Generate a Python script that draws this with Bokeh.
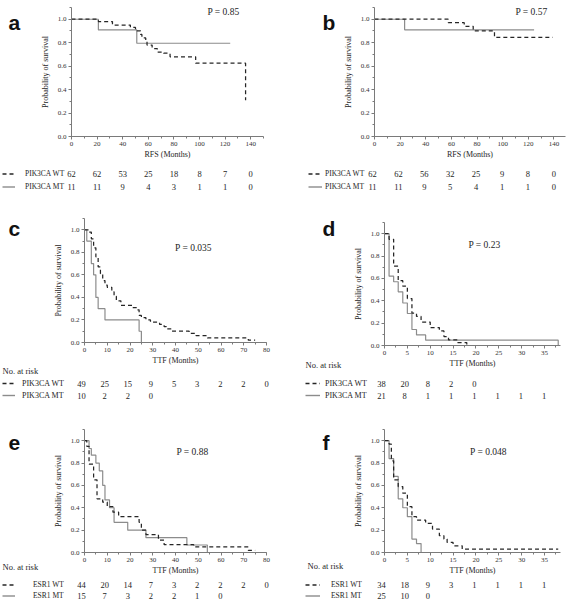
from bokeh.plotting import figure
from bokeh.layouts import column, row
from bokeh.models import (Range1d, SingleIntervalTicker, NumeralTickFormatter, Label,
                          LabelSet, ColumnDataSource, Legend, LegendItem)
from bokeh.embed import file_html
from bokeh.resources import INLINE

# ------------------------------------------------------------------ data
# Panel a: RFS by PIK3CA status
a_wt_time = [0, 21, 32, 46, 50, 54, 55, 58, 59, 63, 67, 72, 77, 97, 136]
a_wt_surv = [1.0, 0.98, 0.95, 0.93, 0.90, 0.87, 0.84, 0.82, 0.78, 0.75, 0.72, 0.71, 0.68, 0.625, 0.31]
a_mt_time = [0, 21, 51, 124]
a_mt_surv = [1.0, 0.909, 0.795, 0.795]
a_risk_time = [0, 20, 40, 60, 80, 100, 120, 140]
a_risk_wt = [62, 62, 53, 25, 18, 8, 7, 0]
a_risk_mt = [11, 11, 9, 4, 3, 1, 1, 0]

# Panel b: RFS by PIK3CA status
b_wt_time = [0, 57.5, 70, 77, 93.6, 139]
b_wt_surv = [1.0, 0.97, 0.94, 0.90, 0.845, 0.845]
b_mt_time = [0, 23.5, 124.5]
b_mt_surv = [1.0, 0.91, 0.91]
b_risk_time = [0, 20, 40, 60, 80, 100, 120, 140]
b_risk_wt = [62, 62, 56, 32, 25, 9, 8, 0]
b_risk_mt = [11, 11, 9, 5, 4, 1, 1, 0]

# Panel c: TTF by PIK3CA status
c_wt_time = [0, 2, 3, 4, 5, 6, 7, 8, 9, 10, 12, 13, 14, 16, 21, 23, 24, 25, 27, 29,
             33, 35, 36, 38, 46, 49, 54, 72, 75]
c_wt_surv = [1.0, 0.98, 0.92, 0.84, 0.76, 0.67, 0.61, 0.55, 0.51, 0.49, 0.45, 0.41, 0.37, 0.33,
             0.31, 0.29, 0.24, 0.22, 0.20, 0.18, 0.16, 0.14, 0.12, 0.10, 0.08, 0.06, 0.04, 0.02, 0.02]
c_mt_time = [0, 1, 3, 4, 5, 6, 9, 24, 25]
c_mt_surv = [1.0, 0.9, 0.7, 0.6, 0.4, 0.3, 0.2, 0.1, 0.0]
c_risk_time = [0, 10, 20, 30, 40, 50, 60, 70, 80]
c_risk_wt = [49, 25, 15, 9, 5, 3, 2, 2, 0]
c_risk_mt = [10, 2, 2, 0]

# Panel d: TTF by PIK3CA status
d_wt_time = [0, 1, 2, 3, 4, 5, 6, 7, 8, 10, 12, 13, 14, 16, 18]
d_wt_surv = [1.0, 0.95, 0.71, 0.58, 0.53, 0.42, 0.29, 0.26, 0.21, 0.16, 0.13, 0.08, 0.05, 0.026, 0.0]
d_mt_time = [0, 1, 2, 3, 4, 5, 6, 7, 9, 38]
d_mt_surv = [1.0, 0.62, 0.57, 0.48, 0.38, 0.286, 0.143, 0.095, 0.048, 0.0]
d_risk_time = [0, 5, 10, 15, 20, 25, 30, 35]
d_risk_wt = [38, 20, 8, 2, 0]
d_risk_mt = [21, 8, 1, 1, 1, 1, 1, 1]

# Panel e: TTF by ESR1 status
e_wt_time = [0, 1, 2, 4, 5.5, 8, 10, 12.5, 15, 24, 25, 27, 32.5, 35, 48, 72, 75]
e_wt_surv = [1.0, 0.95, 0.79, 0.65, 0.48, 0.45, 0.41, 0.36, 0.32, 0.27, 0.20, 0.16, 0.11, 0.07,
             0.05, 0.02, 0.02]
e_mt_time = [0, 2, 3, 5, 6.5, 8, 9, 11, 13, 19, 27, 45, 54]
e_mt_surv = [1.0, 0.93, 0.87, 0.80, 0.73, 0.60, 0.47, 0.40, 0.27, 0.20, 0.133, 0.067, 0.0]
e_risk_time = [0, 10, 20, 30, 40, 50, 60, 70, 80]
e_risk_wt = [44, 20, 14, 7, 3, 2, 2, 2, 0]
e_risk_mt = [15, 7, 3, 2, 2, 1, 0]

# Panel f: TTF by ESR1 status
f_wt_time = [0, 1, 1.5, 2, 3, 4, 5, 6, 7, 9, 10.5, 12, 13, 13.7, 15, 17, 38]
f_wt_surv = [1.0, 0.97, 0.82, 0.65, 0.59, 0.53, 0.41, 0.32, 0.29, 0.26, 0.21, 0.15, 0.12, 0.09,
             0.06, 0.03, 0.03]
f_mt_time = [0, 1, 2, 3, 4, 5, 6, 7, 8]
f_mt_surv = [1.0, 0.84, 0.68, 0.48, 0.40, 0.32, 0.12, 0.08, 0.0]
f_risk_time = [0, 5, 10, 15, 20, 25, 30, 35]
f_risk_wt = [34, 18, 9, 3, 1, 1, 1, 1]
f_risk_mt = [25, 10, 0]

letters = ["a", "b", "c", "d", "e", "f"]
p_values = ["P = 0.85", "P = 0.57", "P = 0.035", "P = 0.23", "P = 0.88", "P = 0.048"]
x_titles = ["RFS (Months)", "RFS (Months)", "TTF (Months)", "TTF (Months)", "TTF (Months)", "TTF (Months)"]
y_title = "Probability of survival"
wt_labels = ["PIK3CA WT", "PIK3CA WT", "PIK3CA WT", "PIK3CA WT", "ESR1 WT", "ESR1 WT"]
mt_labels = ["PIK3CA MT", "PIK3CA MT", "PIK3CA MT", "PIK3CA MT", "ESR1 MT", "ESR1 MT"]
risk_title = "No. at risk"
show_risk_title = [False, False, True, True, True, True]

# ------------------------------------------------------------------ styles
SERIF = "Liberation Serif"
DASH_COLOR = "#262626"
SOLID_COLOR = "#8c8c8c"
AXIS_COLOR = "#7a7a7a"
TEXT_COLOR = "#1e1e1e"
DASH = "4 3"

# geometry per panel (pixels): strip (letter column), plot figure, table figure
geo = [
    dict(sw=36, pw=247, ph=162, bl=35, br=20, bt=7, bb=26, th=33, xmax=150, xstep=20,
         letter=(8, 140), pv=(152, 124.5), rows=(22, 9), rh=13, leg_x=2, gw=13, stand=10,
         risk=None, lfs="7.5px"),
    dict(sw=57, pw=227, ph=162, bl=32, br=2, bt=7, bb=26, th=33, xmax=149, xstep=20,
         letter=(39, 140), pv=(157, 124.5), rows=(22, 9), rh=13, leg_x=25, gw=14, stand=3,
         risk=None, lfs="7.5px"),
    dict(sw=50, pw=233, ph=179, bl=31, br=17, bt=23, bb=32, th=31, xmax=80, xstep=10,
         letter=(8, 146), pv=(109, 95), rows=(22, 10), rh=12, leg_x=2, gw=13, stand=7,
         risk=(2, 4), lfs="8px"),
    dict(sw=67, pw=217, ph=179, bl=31, br=7, bt=27, bb=29, th=31, xmax=38.5, xstep=5,
         letter=(39, 146), pv=(100, 101), rows=(22, 10), rh=12, leg_x=22, gw=15, stand=5,
         risk=(22, 10), lfs="8px"),
    dict(sw=50, pw=233, ph=172, bl=31, br=17, bt=24, bb=23, th=23, xmax=80, xstep=10,
         letter=(8, 135), pv=(108, 101), rows=(16, 5), rh=11, leg_x=2, gw=13, stand=18,
         risk=(2, 11), lfs="7.5px"),
    dict(sw=67, pw=217, ph=172, bl=31, br=7, bt=24, bb=24, th=23, xmax=38.5, xstep=5,
         letter=(39, 135), pv=(104, 101), rows=(16, 5), rh=11, leg_x=22, gw=15, stand=11,
         risk=(24, 12), lfs="7.5px"),
]

series = [
    (a_wt_time, a_wt_surv, a_mt_time, a_mt_surv, a_risk_time, a_risk_wt, a_risk_mt),
    (b_wt_time, b_wt_surv, b_mt_time, b_mt_surv, b_risk_time, b_risk_wt, b_risk_mt),
    (c_wt_time, c_wt_surv, c_mt_time, c_mt_surv, c_risk_time, c_risk_wt, c_risk_mt),
    (d_wt_time, d_wt_surv, d_mt_time, d_mt_surv, d_risk_time, d_risk_wt, d_risk_mt),
    (e_wt_time, e_wt_surv, e_mt_time, e_mt_surv, e_risk_time, e_risk_wt, e_risk_mt),
    (f_wt_time, f_wt_surv, f_mt_time, f_mt_surv, f_risk_time, f_risk_wt, f_risk_mt),
]


def blank(width, height, x_range=None):
    f = figure(width=width, height=height, x_range=x_range or Range1d(0, 1), y_range=Range1d(0, 1),
               x_axis_type=None, y_axis_type=None, min_border=0, output_backend="svg",
               toolbar_location=None, tools="", frame_align=False)
    f.xgrid.visible = False
    f.ygrid.visible = False
    f.outline_line_color = None
    return f


def make_panel(i):
    g = geo[i]
    wt_t, wt_s, mt_t, mt_s, r_t, r_wt, r_mt = series[i]

    # ---- main Kaplan-Meier plot
    p = figure(width=g["pw"], height=g["ph"], min_border_left=g["bl"], min_border_right=g["br"],
               min_border_top=g["bt"], min_border_bottom=g["bb"],
               x_range=Range1d(0, g["xmax"]), y_range=Range1d(0, 1.1),
               output_backend="svg", toolbar_location=None, tools="", frame_align=False)
    p.xgrid.visible = False
    p.ygrid.visible = False
    p.outline_line_color = None
    for ax in (p.xaxis[0], p.yaxis[0]):
        ax.axis_line_color = AXIS_COLOR
        ax.major_tick_line_color = AXIS_COLOR
        ax.minor_tick_line_color = AXIS_COLOR
        ax.major_tick_in = 0
        ax.major_tick_out = 3
        ax.minor_tick_in = 0
        ax.minor_tick_out = 2
        ax.major_label_text_font = SERIF
        ax.major_label_text_font_size = "7px"
        ax.major_label_text_color = "#333333"
        ax.major_label_standoff = 2
        ax.axis_label_text_font = SERIF
        ax.axis_label_text_font_size = "8px"
        ax.axis_label_text_font_style = "normal"
        ax.axis_label_text_color = TEXT_COLOR
    p.xaxis.ticker = SingleIntervalTicker(interval=g["xstep"], num_minor_ticks=2)
    p.yaxis.ticker = SingleIntervalTicker(interval=0.2, num_minor_ticks=2)
    p.yaxis.formatter = NumeralTickFormatter(format="0.0")
    p.xaxis.axis_label = x_titles[i]
    p.yaxis.axis_label = y_title
    p.xaxis.axis_label_standoff = 1
    p.yaxis.axis_label_standoff = 5

    p.step(x=mt_t, y=mt_s, mode="after", line_color=SOLID_COLOR, line_width=1.2)
    p.step(x=wt_t, y=wt_s, mode="after", line_color=DASH_COLOR, line_width=1.25, line_dash=DASH)

    p.add_layout(Label(x=g["pv"][0], y=g["pv"][1], x_units="screen", y_units="screen",
                       text=p_values[i], text_font=SERIF, text_font_size="9.5px",
                       text_color=TEXT_COLOR, text_align="center", text_baseline="middle"))

    # ---- left strip with panel letter (and "No. at risk")
    s = blank(g["sw"], g["ph"])
    s.add_layout(Label(x=g["letter"][0], y=g["letter"][1], x_units="screen", y_units="screen",
                       text=letters[i], text_font="Liberation Sans", text_font_style="bold",
                       text_font_size="21px", text_color="#111111", text_baseline="alphabetic"))
    if show_risk_title[i]:
        s.add_layout(Label(x=g["risk"][0], y=g["risk"][1], x_units="screen", y_units="screen",
                           text=risk_title, text_font=SERIF, text_font_size="8.5px",
                           text_color=TEXT_COLOR, text_align="left", text_baseline="middle"))

    # ---- risk table aligned with the plot's x scale
    tw = g["sw"] + g["pw"]
    px_per = (g["pw"] - g["bl"] - g["br"]) / g["xmax"]
    x0 = -(g["sw"] + g["bl"]) / px_per
    t = blank(tw, g["th"], x_range=Range1d(x0, x0 + tw / px_per))
    for vals, yrow in ((r_wt, g["rows"][0]), (r_mt, g["rows"][1])):
        src = ColumnDataSource(dict(t=r_t[:len(vals)], y=[yrow] * len(vals),
                                    n=[str(v) for v in vals]))
        t.add_layout(LabelSet(x="t", y="y", y_units="screen", text="n", source=src,
                              text_font=SERIF, text_font_size="8.5px", text_color=TEXT_COLOR,
                              text_align="center", text_baseline="middle"))
    # legend keys: hidden copies of the curves (only their legend glyphs are shown)
    wt_key = t.step(x=wt_t, y=wt_s, mode="after", line_color=DASH_COLOR, line_width=1.7,
                    line_dash=DASH, visible=False)
    mt_key = t.step(x=mt_t, y=mt_s, mode="after", line_color=SOLID_COLOR, line_width=1.4,
                    visible=False)
    leg = Legend(items=[LegendItem(label=wt_labels[i], renderers=[wt_key]),
                        LegendItem(label=mt_labels[i], renderers=[mt_key])],
                 location=(g["leg_x"], g["rows"][1] - g["rh"] / 2),
                 orientation="vertical", glyph_width=g["gw"], glyph_height=g["rh"],
                 label_height=g["rh"], spacing=0, padding=0, margin=0,
                 label_standoff=g["stand"], border_line_color=None,
                 background_fill_alpha=0, label_text_font=SERIF, click_policy="none",
                 inactive_fill_alpha=0,
                 label_text_font_size=g["lfs"], label_text_color=TEXT_COLOR)
    t.add_layout(leg)

    return column(row(s, p), t)


panels = [make_panel(i) for i in range(6)]
layout = column(row(panels[0], panels[1]), row(panels[2], panels[3]), row(panels[4], panels[5]))

open("out.html", "w").write(file_html(layout, INLINE))
